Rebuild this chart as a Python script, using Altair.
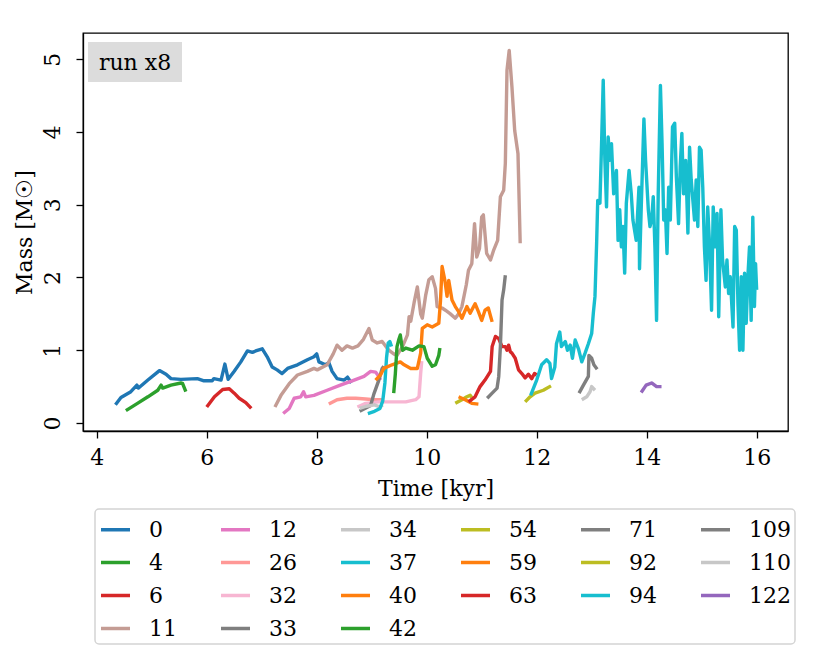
import altair as alt
import pandas as pd

# ---- data (time in kyr, mass in Msun) ----
t0 = [4.34,4.44,4.62,4.73,4.76,4.93,5.14,5.26,5.35,5.53,5.83,5.95,6.10,6.13,6.26,6.33,6.39,6.50,6.62,6.74,6.83,6.89,7.01,7.10,7.19,7.28,7.37,7.47,7.65,7.83,7.95,8.00,8.04,8.16,8.22,8.28,8.37,8.50,8.56,8.63]
m0 = [0.25,0.35,0.43,0.52,0.48,0.59,0.72,0.67,0.61,0.60,0.61,0.58,0.58,0.61,0.59,0.81,0.60,0.71,0.84,0.99,0.97,0.99,1.02,0.91,0.77,0.73,0.68,0.75,0.80,0.87,0.91,0.95,0.84,0.80,0.83,0.71,0.61,0.59,0.63,0.55]
t4 = [4.53,4.74,4.93,5.11,5.17,5.20,5.35,5.53,5.56,5.62]
m4 = [0.17,0.27,0.36,0.45,0.52,0.48,0.52,0.55,0.545,0.43]
t6 = [6.00,6.14,6.29,6.41,6.50,6.59,6.71,6.81]
m6 = [0.22,0.36,0.46,0.47,0.41,0.34,0.28,0.20]
t11 = [7.24,7.35,7.50,7.65,7.83,7.95,8.01,8.19,8.30,8.37,8.46,8.55,8.65,8.75,8.85,8.95,9.01,9.10,9.19,9.31,9.40,9.46,9.56,9.65,9.68,9.71,9.77,9.83,9.89,9.92,9.98,10.04,10.10,10.16,10.19,10.28,10.34,10.43,10.52,10.58,10.64,10.72,10.76,10.82,10.87,10.91,10.96,11.00,11.03,11.09,11.16,11.22,11.29,11.34,11.40,11.43,11.46,11.50,11.55,11.60,11.66,11.70]
m11 = [0.22,0.38,0.54,0.66,0.71,0.75,0.73,0.80,0.95,1.07,1.00,1.06,1.03,1.06,1.15,1.30,1.14,1.10,1.12,1.00,0.95,0.93,1.05,1.21,1.46,1.40,1.65,1.87,1.50,1.44,1.75,1.97,2.01,1.85,1.60,1.58,1.55,1.50,1.44,1.50,1.60,1.90,2.10,2.19,2.74,2.28,2.40,2.83,2.86,2.33,2.24,2.38,2.51,3.11,3.20,3.57,4.85,5.12,4.62,4.02,3.70,2.47]
t12 = [7.39,7.50,7.59,7.71,7.76,7.80,7.95,8.19,8.43,8.68,8.86,8.98,9.07,9.13,9.16]
m12 = [0.13,0.20,0.34,0.36,0.43,0.36,0.38,0.45,0.52,0.59,0.64,0.71,0.70,0.64,0.59]
t26 = [8.22,8.37,8.55,8.71,8.89,9.04,9.19]
m26 = [0.26,0.32,0.34,0.34,0.33,0.32,0.32]
t32 = [8.74,8.89,9.13,9.31,9.62,9.80,9.86,9.89,9.91]
m32 = [0.22,0.27,0.29,0.29,0.29,0.32,0.36,0.68,0.85]
t33 = [8.78,8.98,9.04,9.13,9.19,9.22]
m33 = [0.16,0.24,0.40,0.59,0.75,0.78]
t34 = [8.78,8.90,9.05,9.15,9.20]
m34 = [0.20,0.23,0.25,0.22,0.25]
t37 = [8.93,9.05,9.15,9.20,9.24,9.27,9.30,9.33,9.36]
m37 = [0.13,0.16,0.20,0.30,0.55,0.90,1.10,1.12,1.05]
t40 = [9.07,9.16,9.22,9.37,9.52,9.59,9.71,9.83,9.89,9.92,10.01,10.10,10.22,10.25,10.28,10.33,10.37,10.40,10.46,10.52,10.58,10.64,10.73,10.79,10.88,10.94,11.00,11.06,11.12,11.19]
m40 = [0.59,0.66,0.75,0.80,0.84,0.80,0.75,0.75,0.96,1.30,1.35,1.32,1.37,1.67,2.15,1.96,1.74,1.96,1.69,1.60,1.53,1.44,1.60,1.51,1.64,1.53,1.41,1.55,1.58,1.39]
t42 = [9.40,9.43,9.46,9.49,9.52,9.56,9.62,9.74,9.86,9.95,10.01,10.10,10.16,10.22,10.24]
m42 = [0.41,0.68,1.05,1.14,1.21,1.00,1.03,1.00,1.06,1.05,0.89,0.78,0.80,0.93,1.03]
t54 = [10.52,10.64,10.73,10.79,10.82]
m54 = [0.27,0.32,0.36,0.38,0.35]
t59 = [10.58,10.70,10.82,10.94]
m59 = [0.36,0.32,0.27,0.26]
t63 = [10.76,10.88,10.97,11.06,11.16,11.19,11.25,11.31,11.37,11.43,11.46,11.49,11.52,11.55,11.61,11.67,11.73,11.79,11.85,11.91,11.96,12.00]
m63 = [0.29,0.36,0.50,0.59,0.71,1.05,1.19,1.16,1.05,1.05,1.00,1.07,0.98,0.96,0.89,0.73,0.68,0.62,0.67,0.61,0.68,0.66]
t71 = [11.10,11.19,11.28,11.31,11.34,11.37,11.40,11.43]
m71 = [0.34,0.41,0.48,0.64,1.05,1.69,1.83,2.03]
t92 = [11.79,11.88,11.97,12.12,12.26]
m92 = [0.29,0.36,0.41,0.45,0.51]
t94 = [11.89,12.00,12.09,12.18,12.24,12.27,12.33,12.36,12.42,12.45,12.52,12.56,12.61,12.65,12.70,12.76,12.82,12.88,12.94,13.00,13.03,13.06,13.09,13.11,13.15,13.18,13.21,13.24,13.27,13.30,13.33,13.36,13.40,13.45,13.48,13.51,13.54,13.57,13.60,13.63,13.68,13.72,13.75,13.81,13.86,13.87,13.90,13.95,13.98,14.03,14.06,14.09,14.12,14.15,14.18,14.21,14.25,14.28,14.31,14.34,14.37,14.40,14.43,14.47,14.51,14.54,14.58,14.61,14.64,14.67,14.71,14.75,14.78,14.81,14.84,14.87,14.90,14.93,14.96,14.99,15.02,15.05,15.08,15.11,15.14,15.18,15.21,15.25,15.28,15.31,15.35,15.38,15.43,15.46,15.49,15.52,15.57,15.60,15.63,15.66,15.69,15.72,15.75,15.78,15.81,15.84,15.87,15.90,15.93,15.96,15.98,16.00]
m94 = [0.38,0.59,0.80,0.87,0.82,0.61,0.77,1.09,1.25,1.05,1.12,1.00,1.07,0.89,1.14,1.02,0.84,0.96,1.09,1.23,1.51,1.74,2.47,3.06,3.02,3.84,4.71,3.61,2.97,3.93,3.61,3.84,3.15,3.47,2.51,2.93,2.42,2.70,2.06,3.02,3.47,3.15,2.79,2.51,3.24,2.12,2.93,4.18,3.61,2.93,2.70,2.79,3.11,2.42,1.41,3.15,4.64,3.84,2.79,2.93,2.33,3.24,2.79,4.07,4.12,3.38,2.74,3.52,3.98,3.15,3.61,2.61,3.79,3.34,3.06,2.79,3.34,2.70,3.79,3.75,3.24,2.42,1.96,2.97,2.51,1.55,2.97,2.42,2.88,1.46,2.93,2.24,1.87,2.24,1.78,2.01,1.32,2.70,2.65,1.64,1.00,2.01,1.00,2.06,1.37,2.01,2.42,1.41,2.83,1.60,2.19,1.83]
t109 = [12.77,12.85,12.94,12.95,13.00,13.04,13.10]
m109 = [0.41,0.52,0.64,0.93,0.89,0.80,0.74]
t110 = [12.82,12.91,12.97,13.00,13.06]
m110 = [0.32,0.36,0.43,0.50,0.45]
t122 = [13.90,13.99,14.09,14.18,14.27]
m122 = [0.42,0.52,0.55,0.50,0.50]

labels = ["0","4","6","11","12","26","32","33","34","37","40","42","54","59","63","71","92","94","109","110","122"]
colors = ["#1f77b4","#2ca02c","#d62728","#c49c94","#e377c2","#ff9896","#f7b6d2","#7f7f7f","#c7c7c7","#17becf","#ff7f0e","#2ca02c","#bcbd22","#ff7f0e","#d62728","#7f7f7f","#bcbd22","#17becf","#7f7f7f","#c7c7c7","#9467bd"]
times = [t0,t4,t6,t11,t12,t26,t32,t33,t34,t37,t40,t42,t54,t59,t63,t71,t92,t94,t109,t110,t122]
masses = [m0,m4,m6,m11,m12,m26,m32,m33,m34,m37,m40,m42,m54,m59,m63,m71,m92,m94,m109,m110,m122]
x_ticks = [4, 6, 8, 10, 12, 14, 16]
y_ticks = [0, 1, 2, 3, 4, 5]

# the reference legend has 6 columns filled column by column (4,4,4,3,3,3);
# the legend below is filled row by row, so list the entries in reading order
col_sizes = [4, 4, 4, 3, 3, 3]
cols = []
k = 0
for s in col_sizes:
    cols.append(labels[k:k + s])
    k += s
legend_domain = []
for r in range(max(col_sizes)):
    for c in range(len(cols)):
        if r < len(cols[c]):
            legend_domain.append(cols[c][r])
cmap = dict(zip(labels, colors))
legend_range = [cmap[l] for l in legend_domain]

frames = []
for i, (lab, t, m) in enumerate(zip(labels, times, masses)):
    frames.append(pd.DataFrame({"Time": t, "Mass": m, "series": lab, "idx": list(range(len(t)))}))
df = pd.concat(frames, ignore_index=True)

FONT = "DejaVu Serif"
color_scale = alt.Scale(domain=legend_domain, range=legend_range)

lines = alt.Chart(df).mark_line(strokeWidth=3.4, strokeJoin="round").encode(
    x=alt.X("Time:Q", scale=alt.Scale(domain=[3.75, 16.57], nice=False, zero=False),
            axis=alt.Axis(values=x_ticks, title="Time [kyr]", format="d",
                          labelPadding=9, titlePadding=10)),
    y=alt.Y("Mass:Q", scale=alt.Scale(domain=[-0.11, 5.36], nice=False, zero=False),
            axis=alt.Axis(values=y_ticks, title="Mass [M☉]", labelAngle=270, format="d",
                          labelPadding=12, titlePadding=5)),
    color=alt.Color("series:N", scale=color_scale,
                    legend=alt.Legend(title=None, orient="none", legendX=12, legendY=476,
                                      columns=6, direction="horizontal", symbolType="stroke",
                                      symbolSize=841, symbolStrokeWidth=3.5, labelFontSize=22,
                                      labelFont=FONT, labelOffset=17, columnPadding=23,
                                      rowPadding=5, gridAlign="all", padding=4,
                                      strokeColor="#d4d4d4", fillColor="white",
                                      cornerRadius=4, labelColor="black")),
    order="idx:Q",
)

note_df = pd.DataFrame({"label": ["run x8"]})
box = alt.Chart(note_df).mark_rect(color="#dcdcdc").encode(
    x=alt.value(5), x2=alt.value(99), y=alt.value(9), y2=alt.value(49))
note = alt.Chart(note_df).mark_text(font=FONT, fontSize=22, color="black", align="center", baseline="middle").encode(
    x=alt.value(52), y=alt.value(30), text="label:N")

chart = alt.layer(lines, box, note).properties(
    width=705, height=398,
    autosize=alt.AutoSizeParams(type="none"),
    padding={"left": 75, "top": 25, "right": 34, "bottom": 225},
).configure_view(stroke="black", strokeWidth=1.3).configure_axis(
    grid=False, domainColor="black", domainWidth=1.3, tickColor="black", tickWidth=1.3,
    tickSize=7, labelFont=FONT, labelFontSize=22, labelColor="black", titleFont=FONT,
    titleFontSize=22, titleFontWeight="normal", titleColor="black",
).configure_legend(strokeWidth=1.5)

chart.save("out.html", embed_options={"renderer": "svg", "actions": False})
